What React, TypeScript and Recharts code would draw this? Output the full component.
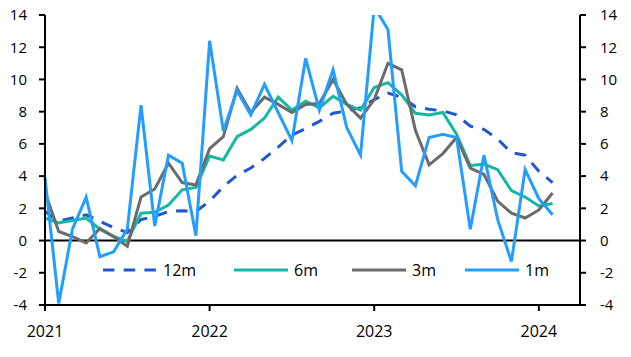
import React from 'react';
import { LineChart, Line, XAxis, YAxis, ReferenceLine, Legend } from 'recharts';

// monthly, Jan 2021 .. Feb 2024
const yearLabels = ['2021', '2022', '2023', '2024'];
const yearTicks = [0, 12, 24, 36];
const valueTicks = [-4, -2, 0, 2, 4, 6, 8, 10, 12, 14];

const m12 = [
  1.8, 1.2, 1.4, 1.6, 1.2, 0.8, 0.5, 1.3, 1.5, 1.8, 1.85, 1.8,
  2.45, 3.35, 4.05, 4.5, 5.1, 5.8, 6.55, 6.95, 7.4, 7.9, 8.05, 8.25,
  8.75, 9.15, 8.9, 8.3, 8.15, 8.05, 7.8, 7.1, 6.9, 6.3, 5.45, 5.3,
  4.3, 3.6,
];
const m6 = [
  1.4, 1.1, 1.25, 1.4, 0.7, 0.25, -0.05, 1.7, 1.75, 2.2, 3.15, 3.3,
  5.25, 5.0, 6.45, 6.9, 7.6, 8.9, 8.1, 8.65, 8.25, 8.95, 8.45, 8.1,
  9.5, 9.8, 9.05, 7.9, 7.8, 7.95, 6.6, 4.65, 4.75, 4.4, 3.1, 2.7,
  2.15, 2.3,
];
const m3 = [
  3.0, 0.56, 0.25, -0.15, 0.75, 0.25, -0.35, 2.7, 3.2, 4.8, 3.6, 3.45,
  5.7, 6.45, 9.45, 7.95, 8.9, 8.45, 7.95, 8.45, 8.5, 10.0, 8.45, 7.6,
  8.75, 11.0, 10.6, 6.85, 4.7, 5.4, 6.4, 4.5, 4.1, 2.45, 1.7, 1.4,
  1.9, 2.95,
];
const m1 = [
  3.9, -3.9, 0.7, 2.7, -1.0, -0.7, 0.7, 8.4, 0.9, 5.3, 4.8, 0.3,
  12.4, 6.8, 9.3, 7.8, 9.7, 7.95, 6.2, 11.3, 8.1, 10.6, 7.0, 5.3,
  14.5, 13.1, 4.3, 3.4, 6.4, 6.6, 6.4, 0.7, 5.3, 1.3, -1.3, 4.4,
  2.6, 1.6,
];

const series = [
  { key: 'm12', name: '12m', color: '#2156d1', dash: '11.5 9.2' },
  { key: 'm6', name: '6m', color: '#16b8a2', dash: undefined },
  { key: 'm3', name: '3m', color: '#6b6b6b', dash: undefined },
  { key: 'm1', name: '1m', color: '#239dff', dash: undefined },
];

const data = m12.map((_, i) => ({
  month: i,
  m12: m12[i],
  m6: m6[i],
  m3: m3[i],
  m1: m1[i],
}));

const FONT = '"Open Sans", "Noto Sans", sans-serif';
const axisLine = { stroke: '#000', strokeWidth: 2 };
const legendWidths = [131, 118, 113, 90];

const renderLegend = () => (
  <div style={{ display: 'flex', alignItems: 'center', height: 22, fontFamily: FONT, fontSize: 16, color: '#000' }}>
    {series.map((s, i) => (
      <div key={s.key} style={{ display: 'flex', alignItems: 'center', width: legendWidths[i] }}>
        <svg width={54} height={6}>
          <line x1={0} y1={3} x2={54} y2={3} stroke={s.color} strokeWidth={3} strokeDasharray={s.dash} />
        </svg>
        <span style={{ marginLeft: 6, lineHeight: '22px' }}>{s.name}</span>
      </div>
    ))}
  </div>
);

export default function App() {
  return (
    <div style={{ position: 'absolute', left: 0, top: 0, width: 631, height: 357, background: '#fff' }}>
      <LineChart width={631} height={357} data={data} margin={{ top: 15, right: 0, bottom: 0, left: 0 }}>
        <XAxis
          dataKey="month"
          type="number"
          domain={[0, 39]}
          ticks={yearTicks}
          tickFormatter={(v: number) => yearLabels[yearTicks.indexOf(v)]}
          height={52}
          axisLine={axisLine}
          tickLine={axisLine}
          tickSize={6}
          tickMargin={15}
          tick={{ fill: '#000', fontSize: 16, fontFamily: FONT }}
        />
        <YAxis
          yAxisId="left"
          domain={[-4, 14]}
          ticks={valueTicks}
          allowDataOverflow
          width={45}
          axisLine={axisLine}
          tickLine={axisLine}
          tickSize={6}
          tickMargin={12}
          tick={{ fill: '#000', fontSize: 15, fontFamily: FONT }}
        />
        <YAxis
          yAxisId="right"
          orientation="right"
          domain={[-4, 14]}
          ticks={valueTicks}
          allowDataOverflow
          width={51}
          axisLine={axisLine}
          tickLine={axisLine}
          tickSize={6}
          tickMargin={14}
          tick={{ fill: '#000', fontSize: 15, fontFamily: FONT }}
        />
        <ReferenceLine yAxisId="left" y={0} stroke="#000" strokeWidth={2} />
        {series.map((s) => (
          <Line
            key={s.key}
            yAxisId="left"
            type="linear"
            dataKey={s.key}
            name={s.name}
            stroke={s.color}
            strokeWidth={3}
            strokeDasharray={s.dash}
            dot={false}
            activeDot={false}
            isAnimationActive={false}
          />
        ))}
        <Legend
          layout="horizontal"
          verticalAlign="middle"
          align="center"
          content={renderLegend}
          wrapperStyle={{ left: 103, top: 259, width: 520 }}
        />
      </LineChart>
    </div>
  );
}
